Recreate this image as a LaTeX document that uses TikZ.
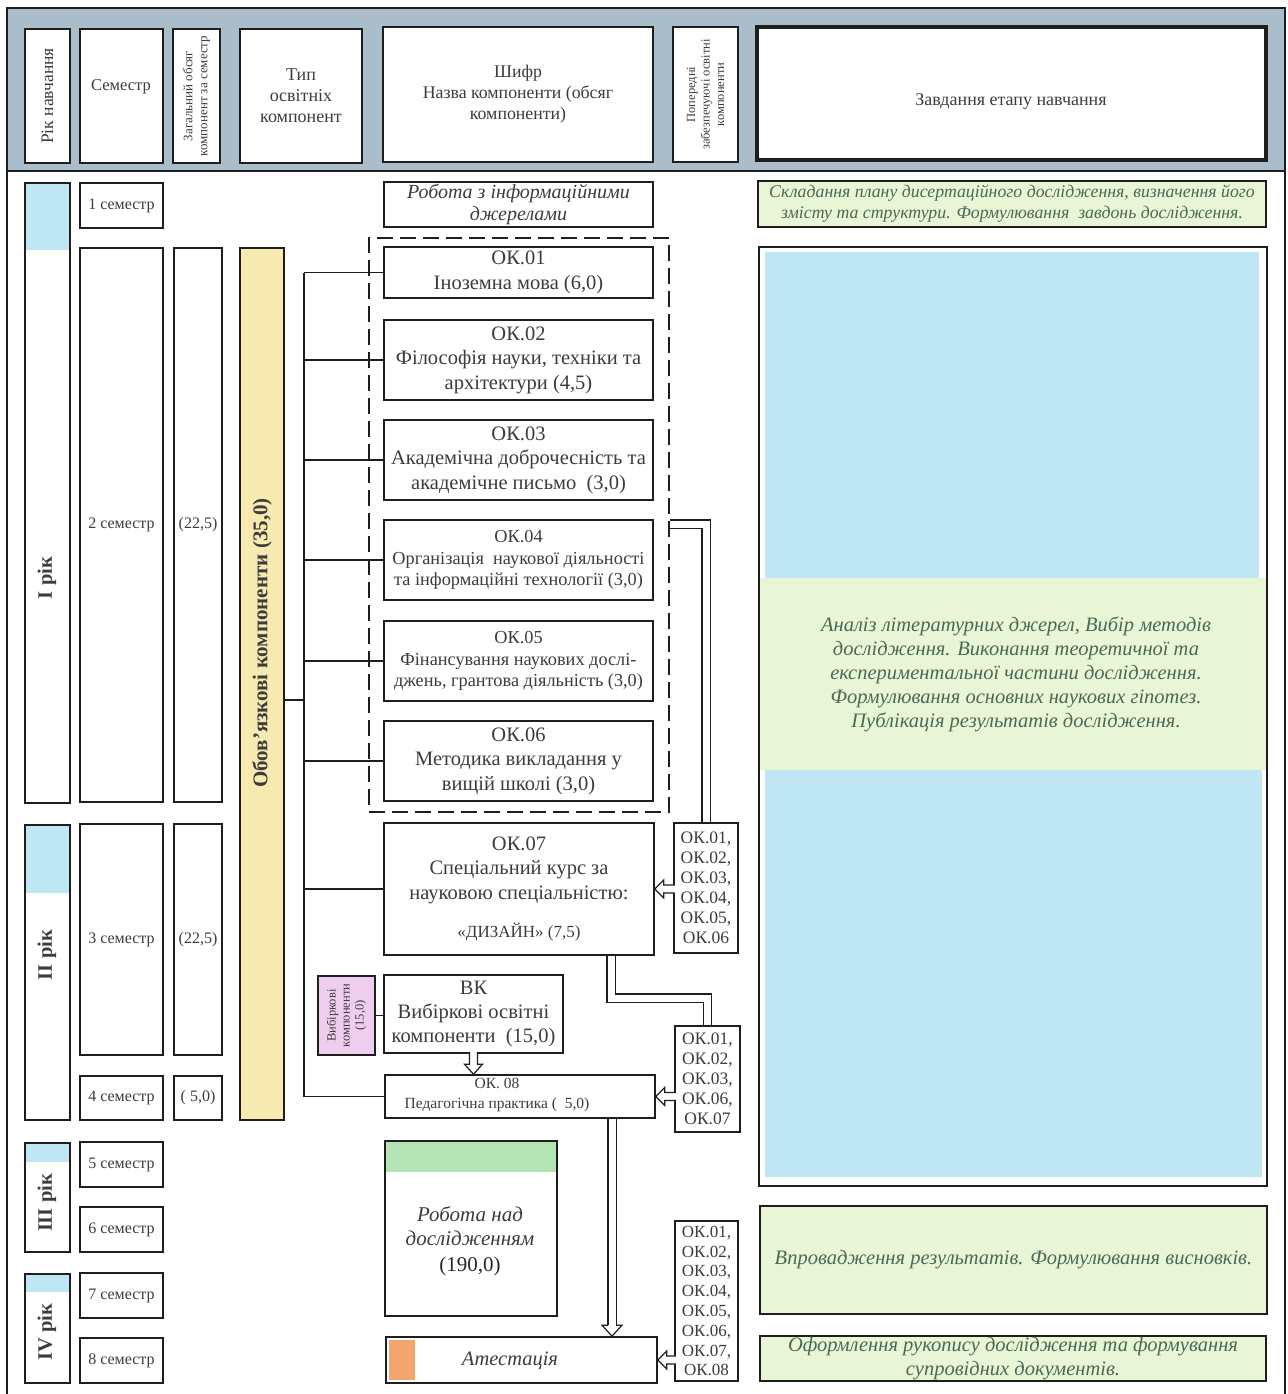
\documentclass[tikz,border=0pt]{standalone}
\usepackage{fontspec}
\setmainfont{Liberation Serif}
\usetikzlibrary{calc}
\definecolor{hdr}{HTML}{A9BDCA}
\definecolor{lblue}{HTML}{BFE6F3}
\definecolor{lgreen}{HTML}{E8F6D6}
\definecolor{ylw}{HTML}{F7EAB0}
\definecolor{pnk}{HTML}{EFCDEE}
\definecolor{org}{HTML}{F3A56F}
\definecolor{gband}{HTML}{B4E4B4}
\definecolor{txt}{HTML}{3C3C3C}
\definecolor{gtxt}{HTML}{4A6A52}
\definecolor{ln}{HTML}{1E1E1E}
\newcommand{\fs}[2]{\fontsize{#1}{#2}\selectfont}
\newcommand{\rb}[7][]{\node[box,minimum width={(#5-#3)*1pt},minimum height={(#6-#4)*1pt},#1] (#2) at ({(#3+#5)/2},{(#4+#6)/2}) {#7};}
\begin{document}
\begin{tikzpicture}[x=1pt,y=-1pt,
  every node/.style={text=txt},
  box/.style={draw=ln,line width=1.6pt,fill=white,inner sep=0pt,align=center},
  hbox/.style={box,line width=2.2pt},
  conn/.style={draw=ln,line width=1.5pt},
  dbl/.style={draw=ln,double=white,double distance=7pt,line width=1.2pt},
  harrow/.style={draw=ln,line width=1.2pt,fill=white,line join=miter},
  rot/.style={rotate=90,align=center,inner sep=0pt},
  gt/.style={text=gtxt,font=\itshape\fs{20.5}{24},align=center}]
\useasboundingbox (0,0) rectangle (1287,1394);
% header band and frame
\draw[ln,line width=1.6pt,fill=hdr] (7,8) rectangle (1285,171);
\draw[ln,line width=1.6pt] (7,171) -- (7,1394) (1285,171) -- (1285,1394);
% header boxes
\rb[hbox]{hyear}{25}{29}{70}{163}{}
\node[rot,font=\fs{17.5}{20}] (hyeart) at (hyear) {Рік навчання};
\rb[hbox]{hsem}{80}{29}{163}{163}{}
\node[font=\fs{16.5}{20},inner sep=0pt] (hsemt) at (121,87) {Семестр};
\rb[hbox]{hvol}{173}{29}{220}{163}{}
\node[rot,font=\fs{13}{15}] (hvolt) at (hvol) {Загальний обсяг\\компонент за семестр};
\rb[hbox,font=\fs{18}{21}]{htype}{240}{29}{362}{163}{Тип\\освітніх\\компонент}
\rb[hbox,font=\fs{17.8}{21}]{hcode}{383}{27}{653}{162}{Шифр\\Назва компоненти (обсяг\\компоненти)}
\rb[hbox]{hpre}{673}{27}{738}{162}{}
\node[rot,font=\fs{12.5}{14.5}] (hpret) at (hpre) {Попередні\\забезпечуючі освітні\\компоненти};
\rb[hbox,line width=3.2pt]{htask}{757}{27}{1266}{160}{}
\node[font=\fs{18}{20},inner sep=0pt] (htaskt) at (1011,101) {Завдання етапу навчання};
% years
\rb{y1}{25}{183}{70}{803}{}
\fill[lblue] (25.8,183.8) rectangle (69.2,250);
\node[rot,font=\bfseries\fs{20.5}{22}] (y1t) at (47,578) {I рік};
\rb{y2}{25}{825}{70}{1120}{}
\fill[lblue] (25.8,825.8) rectangle (69.2,893);
\node[rot,font=\bfseries\fs{20.5}{22}] (y2t) at (47,955) {II рік};
\rb{y3}{25}{1143}{70}{1252}{}
\fill[lblue] (25.8,1143.8) rectangle (69.2,1162);
\node[rot,font=\bfseries\fs{20.5}{22}] (y3t) at (47,1203) {III рік};
\rb{y4}{25}{1274}{70}{1383}{}
\fill[lblue] (25.8,1274.8) rectangle (69.2,1292);
\node[rot,font=\bfseries\fs{20.5}{22}] (y4t) at (47,1332) {IV рік};
% semesters
\rb[font=\fs{16}{18}]{s1}{80}{183}{163}{228}{1 семестр}
\rb[font=\fs{16}{18}]{s2}{80}{248}{163}{802}{2 семестр}
\rb[font=\fs{16}{18}]{s3}{80}{824}{163}{1055}{3 семестр}
\rb[font=\fs{16}{18}]{s4}{80}{1076}{163}{1120}{4 семестр}
\rb[font=\fs{16}{18}]{s5}{80}{1142}{163}{1187}{5 семестр}
\rb[font=\fs{16}{18}]{s6}{80}{1207}{163}{1252}{6 семестр}
\rb[font=\fs{16}{18}]{s7}{80}{1273}{163}{1318}{7 семестр}
\rb[font=\fs{16}{18}]{s8}{80}{1338}{163}{1383}{8 семестр}
% volumes
\rb[font=\fs{16}{18}]{v2}{174}{248}{222}{802}{(22,5)}
\rb[font=\fs{16}{18}]{v3}{174}{824}{222}{1055}{(22,5)}
\rb[font=\fs{16}{18}]{v4}{174}{1076}{222}{1120}{(~5,0)}
% mandatory
\rb[fill=ylw]{obov}{240}{248}{284}{1120}{}
\node[rot,font=\bfseries\fs{21}{23}] (obovt) at (262,643) {Обов'язкові компоненти (35,0)};
% middle column
\rb[font=\itshape\fs{20}{22}]{rinfo}{384}{182}{653}{227}{Робота з інформаційними\\джерелами}
\node[draw=ln,dash pattern=on 16pt off 7pt,line width=1.3pt,minimum width=300pt,minimum height=574pt,inner sep=0pt] (grp) at (519,525) {};
\rb[font=\fs{20.5}{25}]{ok1}{384}{247}{653}{298}{ОК.01\\Іноземна мова (6,0)}
\rb[font=\fs{20.5}{24.5}]{ok2}{384}{320}{653}{400}{ОК.02\\Філософія науки, техніки та\\архітектури (4,5)}
\rb[font=\fs{20.5}{24.5}]{ok3}{384}{420}{653}{500}{ОК.03\\Академічна доброчесність та\\академічне письмо~ (3,0)}
\rb[font=\fs{18.3}{21.5}]{ok4}{384}{520}{653}{600}{ОК.04\\Організація~ наукової діяльності\\та інформаційні технології (3,0)}
\rb[font=\fs{18.3}{21.5}]{ok5}{384}{621}{653}{701}{ОК.05\\Фінансування наукових дослі-\\джень, грантова діяльність (3,0)}
\rb[font=\fs{20.5}{24.5}]{ok6}{384}{721}{653}{801}{ОК.06\\Методика викладання у\\вищій школі (3,0)}
\rb[font=\fs{20.5}{24.5}]{ok7}{384}{823}{654}{955}{ОК.07\\Спеціальний курс за\\науковою спеціальністю:\\[14pt]\fs{17}{20}«ДИЗАЙН» (7,5)}
\rb[font=\fs{17.5}{20}]{pre1}{674}{823}{738}{953}{ОК.01,\\ОК.02,\\ОК.03,\\ОК.04,\\ОК.05,\\ОК.06}
\rb[font=\fs{20.5}{24}]{vk}{384}{975}{563}{1053}{ВК\\Вибіркові освітні\\компоненти~ (15,0)}
\rb[fill=pnk]{pink}{318}{976}{375}{1055}{}
\node[rot,font=\fs{12.5}{14}] (pinkt) at (pink) {Вибіркові\\компоненти\\(15,0)};
\rb{ok8}{385}{1075}{655}{1118}{}
\node[font=\fs{15.5}{20},align=center,inner sep=0pt] (ok8t) at (497,1095) {ОК. 08\\Педагогічна практика (\ \ 5,0)};
\rb[font=\fs{17.5}{20}]{pre2}{675}{1026}{740}{1132}{ОК.01,\\ОК.02,\\ОК.03,\\ОК.06,\\ОК.07}
\rb{rob}{385}{1141}{557}{1316}{}
\fill[gband] (385.8,1141.8) rectangle (556.2,1172);
\node[font=\fs{21}{24},align=center,inner sep=0pt] (robt) at (470,1241) {\textit{Робота над}\\\textit{дослідженням}\\[2pt]\textcolor{black!85}{(190,0)}};
\rb[font=\fs{17}{19.8}]{pre3}{675}{1221}{738}{1381}{ОК.01,\\ОК.02,\\ОК.03,\\ОК.04,\\ОК.05,\\ОК.06,\\ОК.07,\\ОК.08}
\rb{atest}{386}{1337}{657}{1383}{}
\fill[org] (389,1340) rectangle (415,1380);
\node[font=\itshape\fs{20.5}{22},inner sep=0pt] (atestt) at (510,1361) {Атестація};
% right column
\rb[fill=lgreen,gt,font=\itshape\fs{17.8}{21}]{sklad}{758}{181}{1266}{227}{Складання плану дисертаційного дослідження, визначення його\\змісту та структури. Формулювання~ завдонь дослідження.}
\rb{big}{759}{247}{1267}{1186}{}
\fill[lblue] (765,252) rectangle (1259,578);
\fill[lgreen] (760,578) rectangle (1266,770);
\fill[lblue] (765,770) rectangle (1262,1177);
\node[gt,inner sep=0pt] (bigt) at (1016,674) {Аналіз літературних джерел, Вибір методів\\дослідження. Виконання теоретичної та\\експериментальної частини дослідження.\\Формулювання основних наукових гіпотез.\\Публікація результатів дослідження.};
\rb[fill=lgreen,gt]{vpr}{760}{1206}{1267}{1314}{Впровадження результатів. Формулювання висновків.}
\rb[fill=lgreen,gt]{oform}{760}{1336}{1266}{1381}{Оформлення рукопису дослідження та формування\\супровідних документів.}
% connectors
\draw[conn] (obov.east |- 0,700) -- (304,700);
\draw[conn] (304,0 |- ok1.west) -- (304,0 |- ok8.west);
\foreach \n in {ok1,ok2,ok3,ok4,ok5,ok6,ok7,ok8}{\draw[conn] (304,0 |- \n.west) -- (\n.west);}
\draw[conn] (pink.east) -- (pink.east -| vk.west);
\draw[dbl] (grp.east |- 0,524) -| (pre1.north);
\draw[dbl] (ok7.south -| 611,0) -- (611,998) -| (pre2.north);
\draw[dbl] (ok8.south -| 612,0) -- (612,1326);
\coordinate (tipA) at (612,0 |- atest.north);
\draw[harrow] ($(tipA)+(-4,-11)$) -- ($(tipA)+(-10,-11)$) -- (tipA) -- ($(tipA)+(10,-11)$) -- ($(tipA)+(4,-11)$);
\draw[harrow,shift={(ok7.east)}] (20,-4) -- (9,-4) -- (9,-9) -- (0,0) -- (9,9) -- (9,4) -- (20,4);
\draw[harrow,shift={(ok8.east)}] (20,-4) -- (9,-4) -- (9,-9) -- (0,0) -- (9,9) -- (9,4) -- (20,4);
\draw[harrow,shift={(atest.east)}] (18,-4) -- (9,-4) -- (9,-9) -- (0,0) -- (9,9) -- (9,4) -- (18,4);
\draw[harrow,shift={(vk.south |- ok8.north)}] (-4,-22) -- (-4,-10) -- (-9,-10) -- (0,0) -- (9,-10) -- (4,-10) -- (4,-22);
\end{tikzpicture}
\end{document}
